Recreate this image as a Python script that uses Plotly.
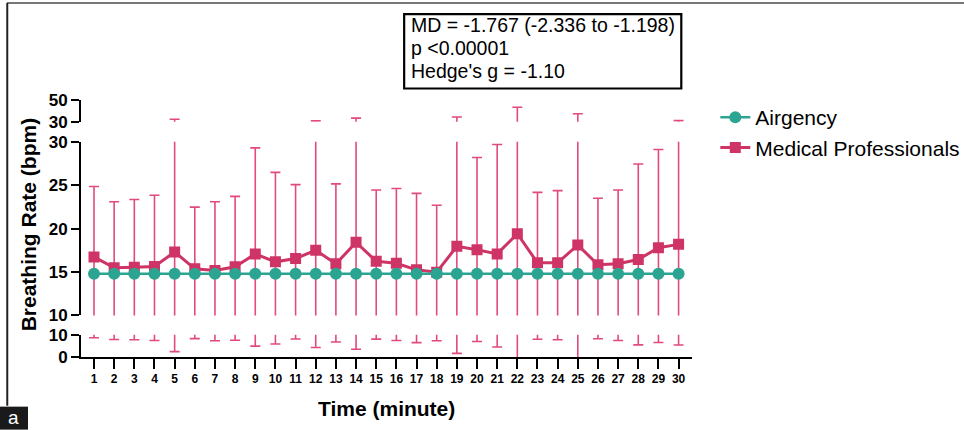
import plotly.graph_objects as go

minutes = list(range(1, 31))
airgency_mean = [14.8] * 30
medical_mean = [16.74, 15.48, 15.55, 15.63, 17.31, 15.37, 15.18, 15.60, 17.08, 16.17,
                16.55, 17.50, 15.94, 18.41, 16.24, 16.01, 15.25, 14.98, 17.95, 17.57,
                17.08, 19.40, 16.06, 16.06, 18.11, 15.83, 15.94, 16.43, 17.80, 18.18]
medical_sd = [8.1, 7.6, 7.8, 8.2, 14.9, 7.1, 7.9, 8.1, 12.2, 10.3,
              8.5, 13.2, 9.2, 14.9, 8.2, 8.6, 8.8, 7.7, 16.3, 10.6,
              12.6, 23.9, 8.1, 8.3, 19.2, 7.65, 8.5, 11.0, 11.3, 12.8]
stats_lines = ["MD = -1.767 (-2.336 to -1.198)", "p <0.00001", "Hedge's g = -1.10"]

TEAL = "#2BA592"
PINK = "#CE3465"
ERR = "#E2497F"
FONT = "Liberation Sans, Arial, sans-serif"

# pixel -> paper helpers (plot area: left 81, width 610.7, bottom 357.3, height 257.3)
L, W, B, H = 81.0, 610.7, 357.3, 257.3
def px(x):
    return (x - L) / W
def py(y):
    return (B - y) / H

fig = go.Figure()

err_mid = dict(type="data", array=medical_sd, visible=True, color=ERR, thickness=1.6, width=5)
# bottom segment: only the lower whisker part; top segment: only whiskers that pass 30
err_low = dict(type="data", symmetric=False, array=[0] * 30, arrayminus=medical_sd,
               visible=True, color=ERR, thickness=1.6, width=5)
top_sd = [s if m + s > 30 else 0 for m, s in zip(medical_mean, medical_sd)]
err_top = dict(type="data", symmetric=False, array=top_sd, arrayminus=[0] * 30,
               visible=True, color=ERR, thickness=1.6, width=5)

for ax, e in [("y", err_low), ("y3", err_top)]:
    fig.add_trace(go.Scatter(x=minutes, y=medical_mean, yaxis=ax, mode="markers",
                             marker=dict(size=1, opacity=0, color=PINK),
                             error_y=e, showlegend=False, hoverinfo="skip"))

fig.add_trace(go.Scatter(x=minutes, y=medical_mean, yaxis="y2", mode="lines+markers",
                         name="Medical Professionals", legendrank=2,
                         line=dict(color=PINK, width=3),
                         marker=dict(symbol="square", size=11, color=PINK),
                         error_y=err_mid))
fig.add_trace(go.Scatter(x=minutes, y=airgency_mean, yaxis="y2", mode="lines+markers",
                         name="Airgency", legendrank=1,
                         line=dict(color=TEAL, width=2.5),
                         marker=dict(symbol="circle", size=12, color=TEAL)))

tickfont = dict(family=FONT, size=17, color="black", weight="bold")
common_y = dict(showline=True, linecolor="black", linewidth=2, ticks="outside",
                ticklen=8, tickwidth=2, tickcolor="black", showgrid=False,
                zeroline=False, tickfont=tickfont, anchor="x")

fig.update_layout(
    width=964, height=430,
    margin=dict(l=L, r=964 - L - W, t=100, b=430 - B, autoexpand=False),
    paper_bgcolor="white", plot_bgcolor="white",
    font=dict(family=FONT, color="black"),
    xaxis=dict(range=[0.355, 30.665], tickvals=minutes, ticktext=[str(m) for m in minutes],
               showline=True, linecolor="black", linewidth=2, ticks="outside",
               ticklen=10, tickwidth=2, tickcolor="black", showgrid=False, zeroline=False,
               tickfont=dict(family=FONT, size=12, color="black", weight="bold"),
               anchor="y"),
    yaxis=dict(domain=[0, py(335)], range=[0, 10], tickvals=[0, 10], **common_y),
    yaxis2=dict(domain=[py(315.7), py(141.7)], range=[10, 30],
                tickvals=[10, 15, 20, 25, 30], **common_y),
    yaxis3=dict(domain=[py(121.7), 1], range=[30, 50], tickvals=[30, 50], **common_y),
    legend=dict(x=px(715), y=py(97), xanchor="left", yanchor="top",
                font=dict(family=FONT, size=21, color="black"),
                bgcolor="rgba(0,0,0,0)", tracegroupgap=0),
    showlegend=True,
)

# axis titles
fig.add_annotation(text="Breathing Rate (bpm)", x=px(28), y=py(224.5), xref="paper", yref="paper",
                   textangle=-90, showarrow=False, xanchor="center", yanchor="middle",
                   font=dict(family=FONT, size=21, color="black", weight="bold"))
fig.add_annotation(text="Time (minute)", x=px(386), y=py(409), xref="paper", yref="paper",
                   showarrow=False, xanchor="center", yanchor="middle",
                   font=dict(family=FONT, size=21, color="black", weight="bold"))

# stats box
fig.add_shape(type="rect", xref="paper", yref="paper", x0=px(404), x1=px(681),
              y0=py(88.5), y1=py(14), line=dict(color="black", width=2.2), fillcolor="white")
for line, yc in zip(stats_lines, [25, 48, 70.5]):
    fig.add_annotation(text=line, x=px(409), y=py(yc), xref="paper", yref="paper",
                       showarrow=False, xanchor="left", yanchor="middle",
                       font=dict(family=FONT, size=19.5, color="black"))

# figure frame
fig.add_shape(type="line", xref="paper", yref="paper", x0=px(7), x1=px(964),
              y0=py(3), y1=py(3), line=dict(color="#777777", width=2))
fig.add_shape(type="line", xref="paper", yref="paper", x0=px(7.3), x1=px(7.3),
              y0=py(3), y1=py(406), line=dict(color="#222222", width=2))
fig.add_shape(type="rect", xref="paper", yref="paper", x0=px(0), x1=px(28),
              y0=py(430), y1=py(407), line=dict(width=0), fillcolor="#1a1a1a")
fig.add_annotation(text="a", x=px(14), y=py(418), xref="paper", yref="paper",
                   showarrow=False, xanchor="center", yanchor="middle",
                   font=dict(family=FONT, size=19, color="white"))

fig.write_html("out.html", config={"displayModeBar": False},
               post_script="document.body.style.margin='0px';")
